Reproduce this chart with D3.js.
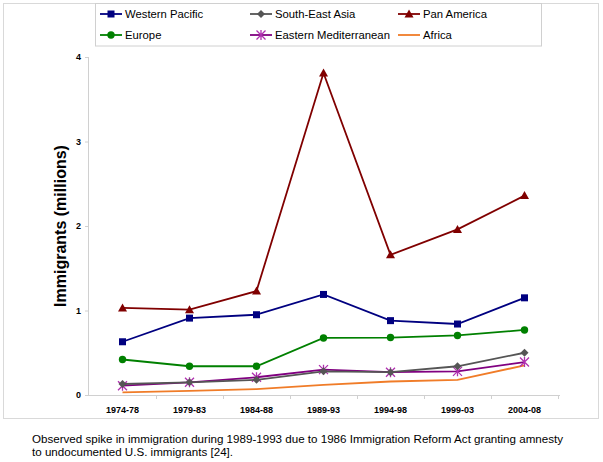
<!DOCTYPE html>
<html><head><meta charset="utf-8">
<script src="https://cdn.jsdelivr.net/npm/d3@7"></script>
<style>body{margin:0;background:#fff}svg{display:block;font-family:"Liberation Sans",Arial,sans-serif}</style>
</head><body>
<svg id="c" width="603" height="462"></svg>
<script>
const categories = ["1974-78","1979-83","1984-88","1989-93","1994-98","1999-03","2004-08"];
const westernPacific = [0.63,0.91,0.95,1.19,0.88,0.84,1.15];
const southEastAsia = [0.13,0.15,0.18,0.28,0.27,0.34,0.50];
const panAmerica = [1.03,1.01,1.23,3.81,1.66,1.96,2.36];
const europe = [0.42,0.34,0.34,0.675,0.68,0.705,0.77];
const easternMed = [0.11,0.15,0.21,0.30,0.27,0.28,0.39];
const africa = [0.03,0.05,0.07,0.12,0.16,0.18,0.35];
const yTicks = [0,1,2,3,4];
const seriesNames = ["Western Pacific","South-East Asia","Pan America","Europe","Eastern Mediterranean","Africa"];
const caption = ["Observed spike in immigration during 1989-1993 due to 1986 Immigration Reform Act granting amnesty","to undocumented U.S. immigrants [24]."];

const series = [
  {name:seriesNames[0], values:westernPacific, color:"#000080", marker:"square"},
  {name:seriesNames[1], values:southEastAsia, color:"#555555", marker:"diamond"},
  {name:seriesNames[2], values:panAmerica, color:"#800000", marker:"triangle"},
  {name:seriesNames[3], values:europe, color:"#008000", marker:"circle"},
  {name:seriesNames[4], values:easternMed, color:"#800080", marker:"star"},
  {name:seriesNames[5], values:africa, color:"#f07c28", marker:"none"}
];

const svg = d3.select("#c");
// outer border
svg.append("rect").attr("x",3.5).attr("y",3.5).attr("width",595).attr("height",415)
  .attr("fill","none").attr("stroke","#d9d9d9");

const x = d3.scaleBand().domain(categories).range([89,558]);
const y = d3.scaleLinear().domain([0,4]).range([395,57]);

// axes
const ya = svg.append("g").attr("transform","translate(89,0)")
  .call(d3.axisLeft(y).tickValues(yTicks).tickFormat(d3.format("d")).tickSize(4));
ya.select(".domain").attr("stroke","#d0d0d0").attr("d","M-0.5,57V395.5");
ya.selectAll(".tick line").attr("stroke","#d0d0d0");
ya.selectAll(".tick text").attr("font-size",9).attr("font-weight","bold").attr("fill","#000")
  .attr("font-family","Liberation Sans, Arial, sans-serif").attr("x",-8);

const xa = svg.append("g").attr("transform","translate(0,395)")
  .call(d3.axisBottom(x).tickSize(0).tickPadding(12));
xa.select(".domain").attr("stroke","#d0d0d0").attr("d","M89,0.5H560");
xa.selectAll(".tick text").attr("font-size",9).attr("font-weight","bold").attr("fill","#000")
  .attr("font-family","Liberation Sans, Arial, sans-serif");
// boundary ticks
const bounds = categories.map(c=>x(c)).concat([x.range()[1]]);
svg.append("g").selectAll("line").data(bounds.slice(1)).join("line")
  .attr("x1",d=>Math.round(d)+0.5).attr("x2",d=>Math.round(d)+0.5).attr("y1",395).attr("y2",399)
  .attr("stroke","#d0d0d0");

// y title
svg.append("text").attr("transform","translate(66,226) rotate(-90)")
  .attr("text-anchor","middle").attr("font-size",16).attr("font-weight","bold").text("Immigrants (millions)");

const cx = c => x(c) + x.bandwidth()/2;
const line = d3.line().x((d,i)=>cx(categories[i])).y(d=>y(d));

function drawMarker(g, type, color, px, py){
  if(type==="square") g.append("rect").attr("x",px-3.5).attr("y",py-3.5).attr("width",7).attr("height",7).attr("fill",color);
  else if(type==="diamond") g.append("path").attr("d",`M${px},${py-4}L${px+4},${py}L${px},${py+4}L${px-4},${py}Z`).attr("fill",color);
  else if(type==="triangle") g.append("path").attr("d",`M${px},${py-4.5}L${px+4.5},${py+3.5}L${px-4.5},${py+3.5}Z`).attr("fill",color);
  else if(type==="circle") g.append("circle").attr("cx",px).attr("cy",py).attr("r",3.7).attr("fill",color);
  else if(type==="star"){
    const r=4.5;
    g.append("path").attr("d",`M${px-r},${py-r}L${px+r},${py+r}M${px-r},${py+r}L${px+r},${py-r}M${px},${py-r-0.5}L${px},${py+r+0.5}`)
      .attr("stroke","#b030b0").attr("stroke-width",1.3).attr("fill","none");
  }
}

const order = [5,4,1,3,0,2];
order.forEach(k=>{
  const s = series[k];
  const g = svg.append("g");
  g.append("path").datum(s.values).attr("d",line).attr("fill","none").attr("stroke",s.color).attr("stroke-width",1.8);
  s.values.forEach((v,i)=>drawMarker(g,s.marker,s.color,cx(categories[i]),y(v)));
});

// legend
svg.append("rect").attr("x",95.5).attr("y",3.5).attr("width",446).attr("height",42.5)
  .attr("fill","#fff").attr("stroke","#d0d0d0");
const legX = [100,250,398], legY = [14,35];
series.forEach((s,i)=>{
  const lx = legX[i%3], ly = legY[Math.floor(i/3)];
  const g = svg.append("g");
  g.append("line").attr("x1",lx).attr("x2",lx+22).attr("y1",ly).attr("y2",ly).attr("stroke",s.color).attr("stroke-width",1.8);
  drawMarker(g,s.marker,s.color,lx+11,ly);
  g.append("text").attr("x",lx+25).attr("y",ly+4).attr("font-size",11.3).text(s.name);
});

// caption
svg.append("g").selectAll("text").data(caption).join("text")
  .attr("x",32).attr("y",(d,i)=>443+i*13).attr("font-size",11.6).text(d=>d);
</script>
</body></html>
